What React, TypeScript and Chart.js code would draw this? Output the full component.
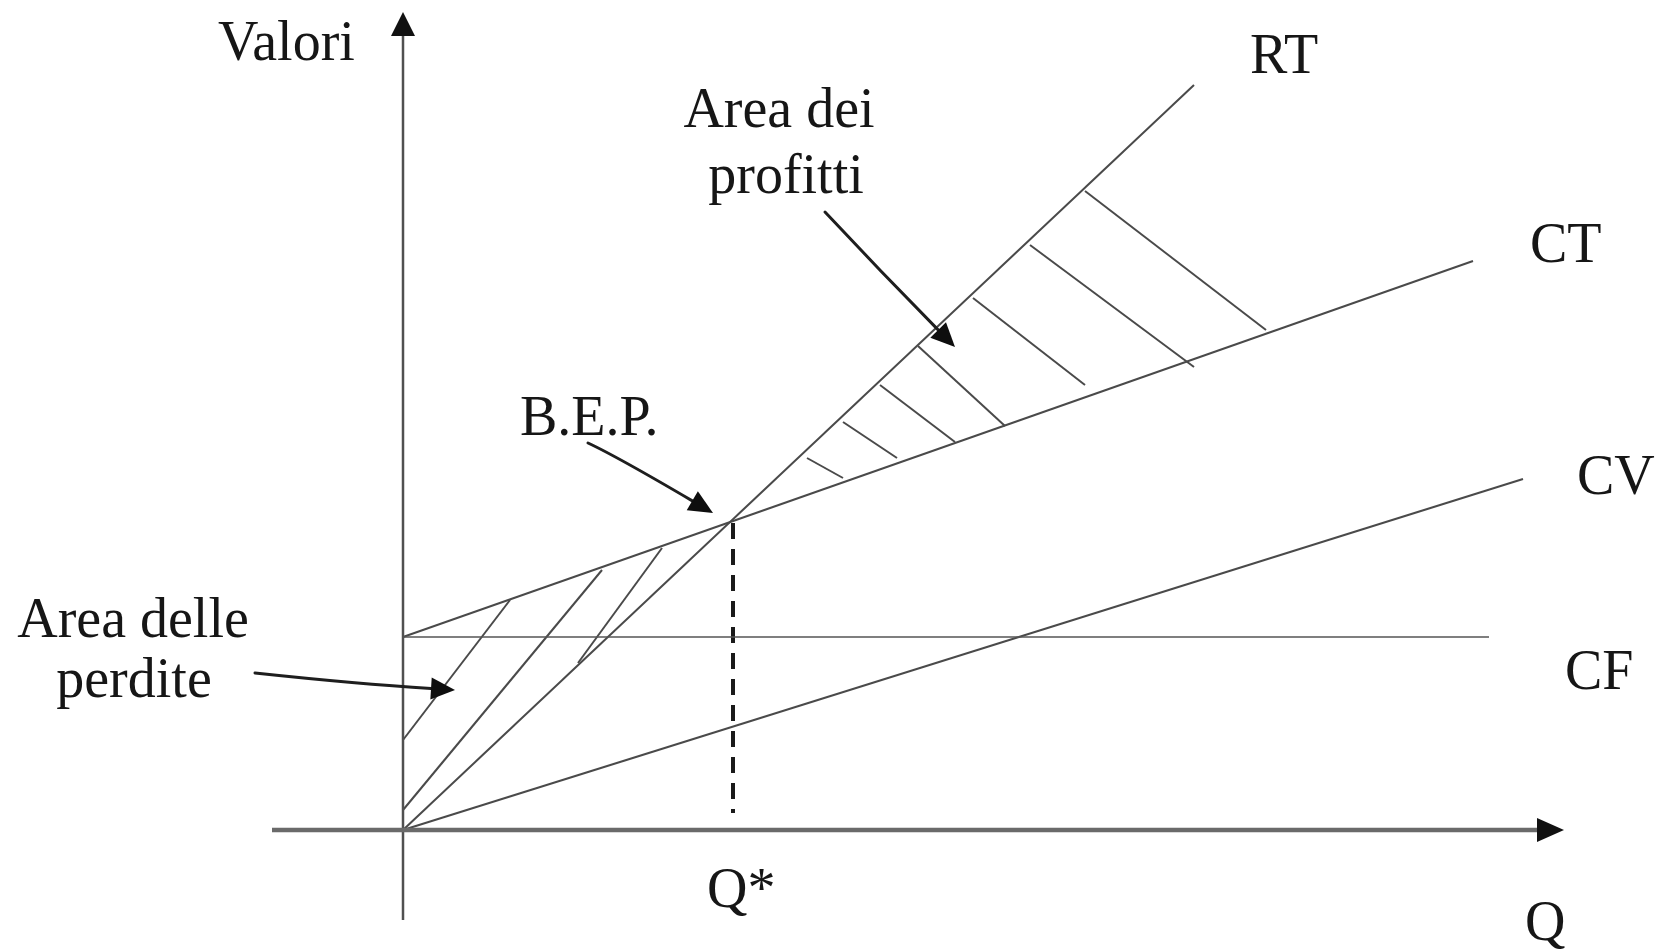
import React, { useEffect, useRef } from "react";
import { Chart, registerables } from "chart.js";

Chart.register(...registerables);

// ---- data (Q = quantity on x, valori on y) ----
const RT_Q = [0, 79.1];
const RT_V = [0, 74.5];
const CT_Q = [0, 107.0];
const CT_V = [19.3, 56.9];
const CV_Q = [0, 112.0];
const CV_V = [0, 35.1];
const CF_Q = [0, 108.6];
const CF_V = [19.3, 19.3];
const BEP_Q = [33.0, 33.0];
const BEP_V = [30.7, 1.7];

// hatch segments [q1, v1, q2, v2]
const PROFIT_HATCH = [
  [40.4, 37.2, 44.0, 35.2],
  [44.0, 40.8, 49.4, 37.2],
  [47.7, 44.5, 55.2, 38.8],
  [51.5, 48.4, 60.2, 40.4],
  [57.0, 53.2, 68.2, 44.5],
  [62.7, 58.5, 79.1, 46.3],
  [68.2, 63.9, 86.3, 50.0],
];
const LOSS_HATCH = [
  [0, 9.0, 10.7, 23.0],
  [0, 2.0, 19.9, 26.0],
  [17.5, 16.7, 25.9, 28.2],
];

// axes extents (arrow tips)
const X_AXIS = [-13.1, 116.1];
const Y_AXIS = [-9.0, 81.8];

const LABELS = ["Valori", "RT", "Area dei", "profitti", "CT", "B.E.P.", "CV", "Area delle", "perdite", "CF", "Q*", "Q"];

// ---- layout (not data) ----
const LABEL_POS: [number, number, CanvasTextAlign][] = [
  [-18.5, 77.0, "left"],
  [84.7, 75.7, "left"],
  [37.6, 70.3, "center"],
  [38.3, 63.7, "center"],
  [112.7, 56.8, "left"],
  [11.7, 39.5, "left"],
  [117.4, 33.6, "left"],
  [-27.0, 19.3, "center"],
  [-26.9, 13.3, "center"],
  [116.2, 14.1, "left"],
  [30.4, -7.7, "left"],
  [112.2, -11.0, "left"],
];
// annotation arrows: start, control, end (data coords)
const ANNOT_ARROWS = [
  [42.2, 61.8, 47.8, 55.8, 55.2, 48.3],
  [18.5, 38.7, 21.3, 37.4, 31.0, 31.7],
  [-14.8, 15.7, -4.5, 14.6, 5.2, 14.0],
];

const LINE_COLOR = "#4a4a4a";
const TEXT_COLOR = "#161616";

function seg(q: number[], v: number[]) {
  return q.map((x, i) => ({ x, y: v[i] }));
}

const diagramPlugin = {
  id: "diagram",
  afterDatasetsDraw(chart: any) {
    const ctx: CanvasRenderingContext2D = chart.ctx;
    const xs = chart.scales.x;
    const ys = chart.scales.y;
    const px = (q: number) => xs.getPixelForValue(q);
    const py = (v: number) => ys.getPixelForValue(v);
    ctx.save();

    // axis arrowheads
    ctx.fillStyle = "#111";
    const yTipX = px(0), yTipY = py(Y_AXIS[1]);
    ctx.beginPath();
    ctx.moveTo(yTipX, yTipY);
    ctx.lineTo(yTipX - 12, yTipY + 24);
    ctx.lineTo(yTipX + 12, yTipY + 24);
    ctx.closePath();
    ctx.fill();
    const xTipX = px(X_AXIS[1]), xTipY = py(0);
    ctx.beginPath();
    ctx.moveTo(xTipX, xTipY);
    ctx.lineTo(xTipX - 27, xTipY - 12);
    ctx.lineTo(xTipX - 27, xTipY + 12);
    ctx.closePath();
    ctx.fill();

    // annotation arrows
    ctx.strokeStyle = "#1e1e1e";
    ctx.fillStyle = "#0e0e0e";
    ctx.lineWidth = 3;
    ctx.lineCap = "round";
    for (const a of ANNOT_ARROWS) {
      const x0 = px(a[0]), y0 = py(a[1]);
      const cx = px(a[2]), cy = py(a[3]);
      const x1 = px(a[4]), y1 = py(a[5]);
      const ang = Math.atan2(y1 - cy, x1 - cx);
      const len = 24, hw = 11;
      const bx = x1 - Math.cos(ang) * len, by = y1 - Math.sin(ang) * len;
      ctx.beginPath();
      ctx.moveTo(x0, y0);
      ctx.quadraticCurveTo(cx, cy, bx, by);
      ctx.stroke();
      ctx.beginPath();
      ctx.moveTo(x1, y1);
      ctx.lineTo(bx + Math.sin(ang) * hw, by - Math.cos(ang) * hw);
      ctx.lineTo(bx - Math.sin(ang) * hw, by + Math.cos(ang) * hw);
      ctx.closePath();
      ctx.fill();
    }

    // labels
    ctx.fillStyle = TEXT_COLOR;
    ctx.font = '56px "Liberation Serif", "Times New Roman", serif';
    ctx.textBaseline = "alphabetic";
    LABELS.forEach((t, i) => {
      const [q, v, al] = LABEL_POS[i];
      ctx.textAlign = al;
      ctx.fillText(t, px(q), py(v));
    });
    ctx.restore();
  },
};

export default function App() {
  const ref = useRef<HTMLCanvasElement | null>(null);
  useEffect(() => {
    if (!ref.current) return;
    const base = { pointRadius: 0, fill: false, tension: 0, borderCapStyle: "butt" };
    const datasets: any[] = [
      { ...base, label: "x-axis", data: seg([X_AXIS[0], X_AXIS[1] - 2.6], [0, 0]), borderColor: "#6a6a6a", borderWidth: 4.5 },
      { ...base, label: "y-axis", data: seg([0, 0], [Y_AXIS[0], Y_AXIS[1] - 2.3]), borderColor: "#505050", borderWidth: 2.5 },
      { ...base, label: "CF", data: seg(CF_Q, CF_V), borderColor: "#555", borderWidth: 1.3 },
      { ...base, label: "CV", data: seg(CV_Q, CV_V), borderColor: LINE_COLOR, borderWidth: 2 },
      { ...base, label: "CT", data: seg(CT_Q, CT_V), borderColor: LINE_COLOR, borderWidth: 2 },
      { ...base, label: "RT", data: seg(RT_Q, RT_V), borderColor: LINE_COLOR, borderWidth: 2 },
      { ...base, label: "Q*", data: seg(BEP_Q, BEP_V), borderColor: "#1a1a1a", borderWidth: 4, borderDash: [16, 10] },
      ...PROFIT_HATCH.map((h, i) => ({ ...base, label: "p" + i, data: seg([h[0], h[2]], [h[1], h[3]]), borderColor: LINE_COLOR, borderWidth: 2 })),
      ...LOSS_HATCH.map((h, i) => ({ ...base, label: "l" + i, data: seg([h[0], h[2]], [h[1], h[3]]), borderColor: LINE_COLOR, borderWidth: 2 })),
    ];
    const chart = new Chart(ref.current, {
      type: "line",
      data: { datasets },
      options: {
        responsive: false,
        animation: false,
        devicePixelRatio: 1,
        layout: { padding: 0 },
        events: [],
        scales: {
          x: { type: "linear", min: -40.3, max: 126.5, display: false },
          y: { type: "linear", min: -12.2, max: 83.0, display: false },
        },
        plugins: { legend: { display: false }, tooltip: { enabled: false } },
      } as any,
      plugins: [diagramPlugin],
    });
    return () => chart.destroy();
  }, []);
  return (
    <div style={{ position: "absolute", left: 0, top: 0, width: 1668, height: 952, background: "#fff" }}>
      <canvas ref={ref} width={1668} height={952} style={{ display: "block", width: 1668, height: 952 }} />
    </div>
  );
}
